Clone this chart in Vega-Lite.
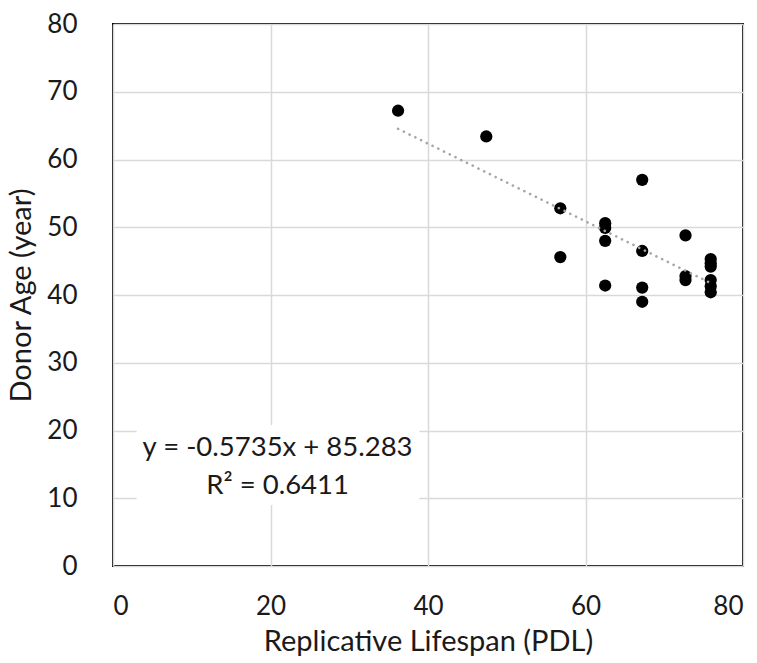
{
  "$schema": "https://vega.github.io/schema/vega-lite/v6.json",
  "width": 630,
  "height": 542,
  "autosize": {"type": "none"},
  "padding": {"left": 113, "top": 24, "right": 14, "bottom": 97},
  "background": "white",
  "config": {
    "font": "Lato",
    "view": {"stroke": "black", "strokeWidth": 2},
    "axis": {
      "grid": true, "gridColor": "#d9d9d9", "gridWidth": 1.5,
      "domain": false, "ticks": false,
      "labelFont": "Lato", "labelFontSize": 26, "labelColor": "#1a1a1a",
      "titleFont": "Lato", "titleFontSize": 29, "titleFontWeight": "normal", "titleColor": "#1a1a1a"
    }
  },
  "datasets": {
    "points": [
      {"lifespan": 36.2, "age": 67.2},
      {"lifespan": 47.4, "age": 63.4},
      {"lifespan": 56.8, "age": 52.8},
      {"lifespan": 56.8, "age": 45.6},
      {"lifespan": 62.5, "age": 50.6},
      {"lifespan": 62.5, "age": 49.9},
      {"lifespan": 62.5, "age": 48.0},
      {"lifespan": 62.5, "age": 41.4},
      {"lifespan": 67.2, "age": 57.0},
      {"lifespan": 67.2, "age": 46.5},
      {"lifespan": 67.2, "age": 41.1},
      {"lifespan": 67.2, "age": 39.0},
      {"lifespan": 72.7, "age": 48.8},
      {"lifespan": 72.7, "age": 42.8},
      {"lifespan": 72.7, "age": 42.2},
      {"lifespan": 75.9, "age": 45.3},
      {"lifespan": 75.9, "age": 44.7},
      {"lifespan": 75.9, "age": 44.2},
      {"lifespan": 75.9, "age": 42.2},
      {"lifespan": 75.9, "age": 41.3},
      {"lifespan": 75.9, "age": 40.4}
    ],
    "trend": [
      {"lifespan": 36.2, "age": 64.52},
      {"lifespan": 75.9, "age": 41.76}
    ],
    "box": [
      {"x1": 3.0, "x2": 38.9, "y1": 9.0, "y2": 20.8}
    ],
    "labels": [
      {"lifespan": 20.9, "age": 17.4, "text": "y = -0.5735x + 85.283"},
      {"lifespan": 20.9, "age": 11.8, "text": "R² = 0.6411"}
    ]
  },
  "layer": [
    {
      "data": {"name": "points"},
      "mark": {"type": "circle", "size": 150, "color": "black", "opacity": 1},
      "encoding": {
        "x": {"field": "lifespan", "type": "quantitative", "scale": {"domain": [0, 80], "nice": false},
              "axis": {"values": [0, 20, 40, 60, 80], "title": "Replicative Lifespan (PDL)", "labelPadding": 27, "titlePadding": 8}},
        "y": {"field": "age", "type": "quantitative", "scale": {"domain": [0, 80], "nice": false},
              "axis": {"values": [0, 10, 20, 30, 40, 50, 60, 70, 80], "title": "Donor Age (year)", "labelPadding": 36, "titlePadding": 10}}
      }
    },
    {
      "data": {"name": "trend"},
      "mark": {"type": "line", "color": "#a6a6a6", "strokeWidth": 2.6, "strokeCap": "round", "strokeDash": [0.1, 6.3]},
      "encoding": {
        "x": {"field": "lifespan", "type": "quantitative"},
        "y": {"field": "age", "type": "quantitative"}
      }
    },
    {
      "data": {"name": "box"},
      "mark": {"type": "rect", "color": "white"},
      "encoding": {
        "x": {"field": "x1", "type": "quantitative"},
        "x2": {"field": "x2"},
        "y": {"field": "y1", "type": "quantitative"},
        "y2": {"field": "y2"}
      }
    },
    {
      "data": {"name": "labels"},
      "mark": {"type": "text", "font": "Lato", "fontSize": 27.5, "color": "#1a1a1a", "align": "center", "baseline": "middle"},
      "encoding": {
        "x": {"field": "lifespan", "type": "quantitative"},
        "y": {"field": "age", "type": "quantitative"},
        "text": {"field": "text"}
      }
    }
  ]
}
